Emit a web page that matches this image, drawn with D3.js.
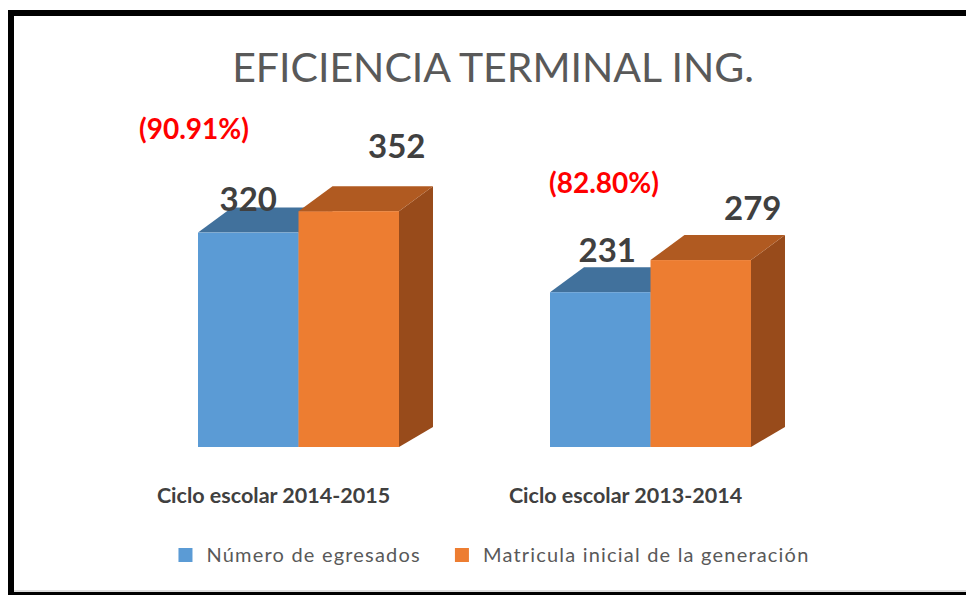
<!DOCTYPE html>
<html>
<head>
<meta charset="utf-8">
<script src="https://cdn.jsdelivr.net/npm/d3@7"></script>
<style>
  html, body { margin: 0; padding: 0; background: #fff; }
  svg { display: block; font-family: Lato, "Open Sans", sans-serif; }
</style>
</head>
<body>
<svg id="chart"></svg>
<script>
const categories = ["Ciclo escolar 2014-2015", "Ciclo escolar 2013-2014"];
const seriesNames = ["Número de egresados", "Matricula inicial de la generación"];
const egresados = [320, 231];
const matricula = [352, 279];
const titleText = "EFICIENCIA TERMINAL ING.";

const width = 966;
const height = 595;

const svg = d3.select("#chart")
  .attr("width", width)
  .attr("height", height)
  .attr("viewBox", `0 0 ${width} ${height}`);

// frame like the original screenshot
svg.append("rect").attr("x", 8).attr("y", 10).attr("width", width - 8).attr("height", 6).attr("fill", "#000");
svg.append("rect").attr("x", 8).attr("y", 10).attr("width", 6).attr("height", height - 10).attr("fill", "#000");
svg.append("rect").attr("x", 8).attr("y", 592).attr("width", width - 8).attr("height", 3).attr("fill", "#000");
svg.append("rect").attr("x", 14).attr("y", 590).attr("width", width - 14).attr("height", 2).attr("fill", "#ddd");

svg.append("text")
  .attr("x", 493)
  .attr("y", 82)
  .attr("text-anchor", "middle")
  .attr("font-size", 41)
  .attr("fill", "#595959")
  .text(titleText);

const baseY = 447;
const depth = { dx: 34, dy: -25 };

const y = d3.scaleLinear().domain([0, 400]).range([baseY, baseY - 268]);

const x0 = d3.scaleBand()
  .domain(categories)
  .range([122.5, 826.5])
  .paddingInner(0.429)
  .paddingOuter(0.2145);

const x1 = d3.scaleBand()
  .domain(seriesNames)
  .range([0, x0.bandwidth()]);

const colors = {
  [seriesNames[0]]: { front: "#5B9BD5", top: "#41719C", side: "#3A6590" },
  [seriesNames[1]]: { front: "#ED7D31", top: "#B05A21", side: "#984B1B" }
};

const bars = [];
categories.forEach((c, i) => {
  bars.push({ cat: c, i, series: seriesNames[0], value: egresados[i] });
  bars.push({ cat: c, i, series: seriesNames[1], value: matricula[i] });
});

const barG = svg.append("g");
const bar = barG.selectAll("g.bar")
  .data(bars)
  .join("g")
  .attr("class", "bar");

bar.append("path")
  .attr("fill", d => colors[d.series].side)
  .attr("d", d => {
    const xr = x0(d.cat) + x1(d.series) + x1.bandwidth();
    const yt = y(d.value);
    return `M${xr},${yt}L${xr + depth.dx},${yt + depth.dy}L${xr + depth.dx},${baseY + depth.dy + 5}L${xr},${baseY}Z`;
  });

bar.append("path")
  .attr("fill", d => colors[d.series].top)
  .attr("d", d => {
    const xl = x0(d.cat) + x1(d.series);
    const xr = xl + x1.bandwidth();
    const yt = y(d.value);
    return `M${xl},${yt}L${xr},${yt}L${xr + depth.dx},${yt + depth.dy}L${xl + depth.dx},${yt + depth.dy}Z`;
  });

bar.append("rect")
  .attr("x", d => x0(d.cat) + x1(d.series))
  .attr("y", d => y(d.value))
  .attr("width", x1.bandwidth())
  .attr("height", d => baseY - y(d.value))
  .attr("fill", d => colors[d.series].front);

// value labels, offsets tuned to where Excel put them
const labelShift = {
  [seriesNames[0]]: [[0, -22], [7, -30]],
  [seriesNames[1]]: [[48, -53], [52, -40]]
};

svg.append("g").selectAll("text")
  .data(bars)
  .join("text")
  .attr("x", d => x0(d.cat) + x1(d.series) + x1.bandwidth() / 2 + labelShift[d.series][d.i][0])
  .attr("y", d => y(d.value) + labelShift[d.series][d.i][1])
  .attr("text-anchor", "middle")
  .attr("font-size", 33)
  .attr("font-weight", "bold")
  .attr("fill", "#404040")
  .text(d => d.value);

// efficiency percentage
const pctShift = [[-4, -94], [54, -99]];
svg.append("g").selectAll("text")
  .data(categories)
  .join("text")
  .attr("x", (c, i) => x0(c) + pctShift[i][0])
  .attr("y", (c, i) => y(egresados[i]) + pctShift[i][1])
  .attr("text-anchor", "middle")
  .attr("font-size", 28)
  .attr("font-weight", "bold")
  .attr("fill", "#FF0000")
  .text((c, i) => `(${(egresados[i] / matricula[i] * 100).toFixed(2)}%)`);

// category labels
svg.append("g").selectAll("text")
  .data(categories)
  .join("text")
  .attr("x", c => x0(c) + x0.bandwidth() / 2 - 25)
  .attr("y", 503)
  .attr("text-anchor", "middle")
  .attr("font-size", 21.5)
  .attr("font-weight", "bold")
  .attr("fill", "#404040")
  .text(c => c);

// legend
const legend = svg.append("g");
const items = legend.selectAll("g")
  .data(seriesNames)
  .join("g");
items.append("rect")
  .attr("width", 14)
  .attr("height", 14)
  .attr("y", 548)
  .attr("fill", d => colors[d].front);
items.append("text")
  .attr("y", 562)
  .attr("font-size", 20)
  .attr("letter-spacing", 1.2)
  .attr("fill", "#595959")
  .text(d => d);

const widths = [];
items.each(function () {
  widths.push(d3.select(this).select("text").node().getComputedTextLength());
});
const gap = 34;
const total = 28 + widths[0] + gap + 28 + widths[1];
let cursor = 494 - total / 2;
items.each(function (d, i) {
  const g = d3.select(this);
  g.select("rect").attr("x", cursor);
  g.select("text").attr("x", cursor + 28);
  cursor += 28 + widths[i] + gap;
});
</script>
</body>
</html>
